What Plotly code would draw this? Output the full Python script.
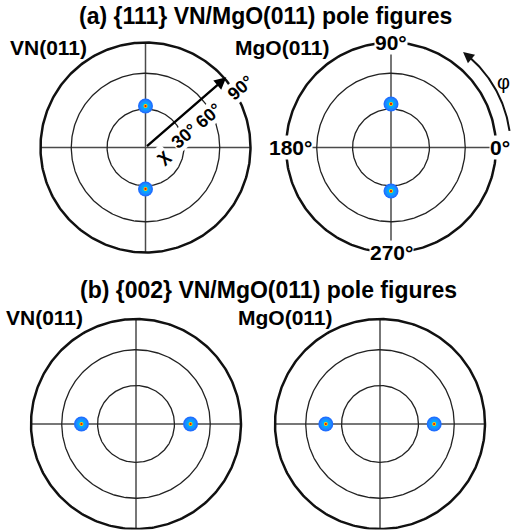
import numpy as np
import plotly.graph_objects as go

W, H = 513, 530
R_PX = 105  # pixel radius of the 90° circle

# ---------------- data ----------------
ring_chi = [30, 60, 90]                 # chi circles (deg)
axis_phi = [0, 90, 180, 270]            # phi grid directions
phi_labels = ["0°", "90°", "180°", "270°"]
chi_labels = ["30°", "60°", "90°"]

a_vn_chi = [32.4, 32.4]
a_vn_phi = [90, 270]
a_mgo_chi = [34.1, 34.1]
a_mgo_phi = [90, 270]
b_vn_chi = [43.1, 43.1]
b_vn_phi = [180, 0]
b_mgo_chi = [42.8, 42.8]
b_mgo_phi = [180, 0]

# ---------------- helpers ----------------
def proj(chi):
    """equal-area projection radius (90° -> 1)"""
    return np.sqrt(2) * np.sin(np.radians(np.asarray(chi, float)) / 2)

def polar_xy(chi, phi):
    r = proj(chi)
    p = np.radians(np.asarray(phi, float))
    return r * np.cos(p), r * np.sin(p)

panels = [
    dict(cx=145.5, cy=147.5, xr=(-1.1, 1.1), yr=(-1.1, 1.1), chi=a_vn_chi, phi=a_vn_phi),
    dict(cx=391.0, cy=147.5, xr=(-1.1, 1.15), yr=(-1.1, 1.1), chi=a_mgo_chi, phi=a_mgo_phi),
    dict(cx=136.0, cy=424.0, xr=(-1.1, 1.1), yr=(-1.005, 1.1), chi=b_vn_chi, phi=b_vn_phi),
    dict(cx=380.0, cy=424.0, xr=(-1.1, 1.1), yr=(-1.005, 1.1), chi=b_mgo_chi, phi=b_mgo_phi),
]

fig = go.Figure()
layout = dict(width=W, height=H, margin=dict(l=0, r=0, t=0, b=0),
              paper_bgcolor="white", plot_bgcolor="rgba(0,0,0,0)",
              showlegend=False)
annotations = []
FONT = "Liberation Sans, Arial, Helvetica, sans-serif"

t = np.linspace(0, 2 * np.pi, 361)
for i, p in enumerate(panels):
    n = "" if i == 0 else str(i + 1)
    xa, ya = "x" + n, "y" + n
    cx, cy = p["cx"], p["cy"]
    x0, x1 = p["xr"]
    y0, y1 = p["yr"]
    layout["xaxis" + n] = dict(domain=[(cx + x0 * R_PX) / W, (cx + x1 * R_PX) / W],
                               range=[x0, x1], visible=False, fixedrange=True,
                               anchor=ya)
    layout["yaxis" + n] = dict(domain=[1 - (cy - y0 * R_PX) / H, 1 - (cy - y1 * R_PX) / H],
                               range=[y0, y1], visible=False, fixedrange=True,
                               anchor=xa)
    # phi diameters
    for ph in axis_phi[:2]:
        ex, ey = polar_xy([90, 90], [ph, ph + 180])
        fig.add_trace(go.Scatter(x=ex, y=ey, mode="lines", xaxis=xa, yaxis=ya,
                                 line=dict(color="#4a4a4a", width=1.5),
                                 hoverinfo="skip"))
    # chi rings
    for c in ring_chi:
        r = proj(c)
        fig.add_trace(go.Scatter(x=r * np.cos(t), y=r * np.sin(t), mode="lines",
                                 xaxis=xa, yaxis=ya,
                                 line=dict(color="#111111" if c == 90 else "#222222",
                                           width=2.5 if c == 90 else 1.3),
                                 hoverinfo="skip"))
    # spots
    sx, sy = polar_xy(p["chi"], p["phi"])
    for size, col in [(15, "#1f6fff"), (12, "#1a8cff"), (8, "#00aaff"),
                      (4, "#ffd200"), (2.2, "#e81000")]:
        fig.add_trace(go.Scatter(x=sx, y=sy, mode="markers", xaxis=xa, yaxis=ya,
                                 marker=dict(size=size, color=col, line=dict(width=0)),
                                 hoverinfo="skip"))

# ---- panel (a) left: chi arrow and labels ----
ang = 41.0
tip = proj(90) * 1.02
annotations.append(dict(x=tip * np.cos(np.radians(ang)), y=tip * np.sin(np.radians(ang)),
                        ax=0, ay=0, xref="x", yref="y", axref="x", ayref="y",
                        text="", showarrow=True, arrowhead=2, arrowsize=1.0,
                        arrowwidth=2.4, arrowcolor="black"))
perp = np.radians(ang - 90)
off = 0.165
along_adj = [-0.016, -0.057, 0.055]
labels_along = [("χ", 0.07)] + [(lab, float(proj(c)) + a)
                                 for lab, c, a in zip(chi_labels, ring_chi, along_adj)]
for lab, d in labels_along:
    px = d * np.cos(np.radians(ang)) + off * np.cos(perp)
    py = d * np.sin(np.radians(ang)) + off * np.sin(perp)
    annotations.append(dict(x=px, y=py, xref="x", yref="y", text=lab, showarrow=False,
                            textangle=-ang, bgcolor="white", borderpad=0,
                            font=dict(family=FONT, size=18, color="black", weight="bold")))

# ---- panel (a) right: phi labels and arc ----
shifts = {"0°": (4, 0), "90°": (0, 0), "180°": (4, 0), "270°": (0, 0)}
for ph, lab in zip(axis_phi, phi_labels):
    lx, ly = polar_xy(90, ph)
    annotations.append(dict(x=float(lx), y=float(ly), xref="x2", yref="y2", text=lab,
                            showarrow=False, bgcolor="white", borderpad=0,
                            xshift=shifts[lab][0], yshift=shifts[lab][1],
                            font=dict(family=FONT, size=21, color="black", weight="bold")))
arc_r = 1.14
arc_phi = np.radians(np.linspace(8, 50, 80))
fig.add_trace(go.Scatter(x=arc_r * np.cos(arc_phi), y=arc_r * np.sin(arc_phi), mode="lines",
                         xaxis="x2", yaxis="y2", line=dict(color="#111111", width=2),
                         hoverinfo="skip"))
end_phi, pre_phi = np.radians(53), np.radians(47)
annotations.append(dict(x=arc_r * np.cos(end_phi), y=arc_r * np.sin(end_phi),
                        ax=arc_r * np.cos(pre_phi), ay=arc_r * np.sin(pre_phi),
                        xref="x2", yref="y2", axref="x2", ayref="y2", text="",
                        showarrow=True, arrowhead=2, arrowsize=1.1, arrowwidth=2,
                        arrowcolor="#111111"))
annotations.append(dict(x=1.24 * np.cos(np.radians(30)), y=1.24 * np.sin(np.radians(30)),
                        xref="x2", yref="y2", text="φ", showarrow=False,
                        font=dict(family=FONT, size=20, color="black")))

# ---- titles & sample labels ----
def paper_text(text, px, py, size, anchor="center"):
    annotations.append(dict(x=px / W, y=1 - py / H, xref="paper", yref="paper", text=text,
                            showarrow=False, xanchor=anchor, yanchor="middle",
                            font=dict(family=FONT, size=size, color="black", weight="bold")))

paper_text("(a) {111} VN/MgO(011) pole figures", 265, 16, 23)
paper_text("(b) {002} VN/MgO(011) pole figures", 268, 290, 23)
paper_text("VN(011)", 8, 48, 21, "left")
paper_text("MgO(011)", 233, 48, 21, "left")
paper_text("VN(011)", 4, 317, 21, "left")
paper_text("MgO(011)", 236, 317, 21, "left")

layout["annotations"] = annotations
fig.update_layout(**layout)
fig.write_html("out.html", config={"displayModeBar": False},
               post_script="document.body.style.margin='0px';document.body.style.padding='0px';")
